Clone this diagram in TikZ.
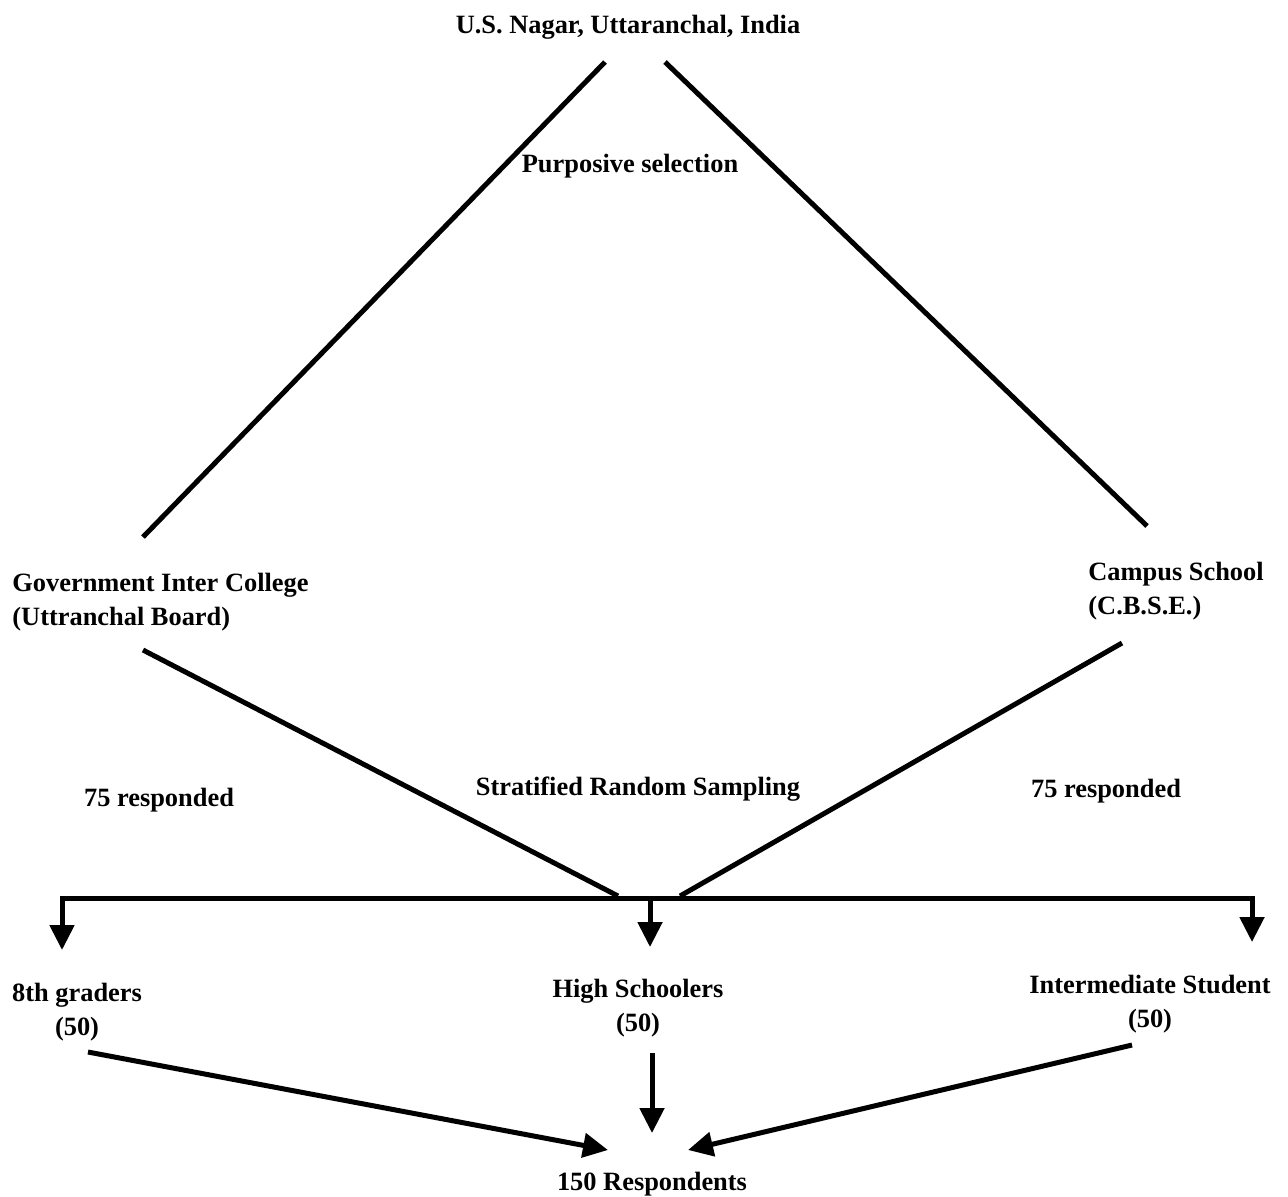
\documentclass[tikz,border=0pt]{standalone}
\usepackage{fontspec}
\setmainfont{Liberation Serif}
\usetikzlibrary{arrows.meta}
\begin{document}
\begin{tikzpicture}[x=0.5pt,y=-0.5pt,
    lbl/.style={font=\bfseries\fontsize{13.2}{16.8}\selectfont, inner sep=0pt, align=center},
    ln/.style={line width=2.5pt},
    arr/.style={line width=2.5pt, -{Triangle[length=12.5pt,width=12pt]}}]
            \useasboundingbox (0,0) rectangle (1288,1196);
            % district and the two schools
            \node[lbl] (dist) at (628,27) {U.S. Nagar, Uttaranchal, India};
            \node[lbl] (purp) at (630,166) {Purposive selection};
            \node[lbl, anchor=west, align=left] (gic) at (12,602) {Government Inter College\\(Uttranchal Board)};
            \node[lbl, anchor=west, align=left] (cbse) at (1088,591) {Campus School\\(C.B.S.E.)};
            \draw[ln] ([shift={(-23,35)}]dist.center) -- ([shift={(131,-65)}]gic.west);
            \draw[ln] ([shift={(37,35)}]dist.center) -- ([shift={(59,-65)}]cbse.west);
            % sampling
            \node[lbl] (respL) at (159,800) {75 responded};
            \node[lbl] (strat) at (638,789) {Stratified Random Sampling};
            \node[lbl] (respR) at (1106,791) {75 responded};
            \coordinate (joinL) at (618,896);
            \coordinate (joinR) at (680,896);
            \draw[ln] ([shift={(131,48)}]gic.west) -- (joinL);
            \draw[ln] ([shift={(34,52)}]cbse.west) -- (joinR);
            % three groups
            \node[lbl] (eighth) at (77,1012) {8th graders\\(50)};
            \node[lbl] (high) at (638,1008) {High Schoolers\\(50)};
            \node[lbl] (inter) at (1150,1004) {Intermediate Student\\(50)};
            \coordinate (barL) at (62,898);
            \coordinate (barR) at (1252,898);
            \draw[ln, line cap=rect] (barL) -- (barR);
            \draw[arr] (barL) -- ([shift={(-15,-62)}]eighth.center);
            \draw[arr] (barL -| 650,0) -- ([shift={(12,-61)}]high.center);
            \draw[arr] (barR) -- ([shift={(102,-62)}]inter.center);
            % total
            \node[lbl] (total) at (652,1184) {150 Respondents};
            \draw[arr] ([shift={(11,40)}]eighth.center) -- ([shift={(-44,-34)}]total.center);
            \draw[arr] ([shift={(14,45)}]high.center) -- ([shift={(0,-51)}]total.center);
            \draw[arr] ([shift={(-18,41)}]inter.center) -- ([shift={(36,-34)}]total.center);
          \end{tikzpicture}
\end{document}
